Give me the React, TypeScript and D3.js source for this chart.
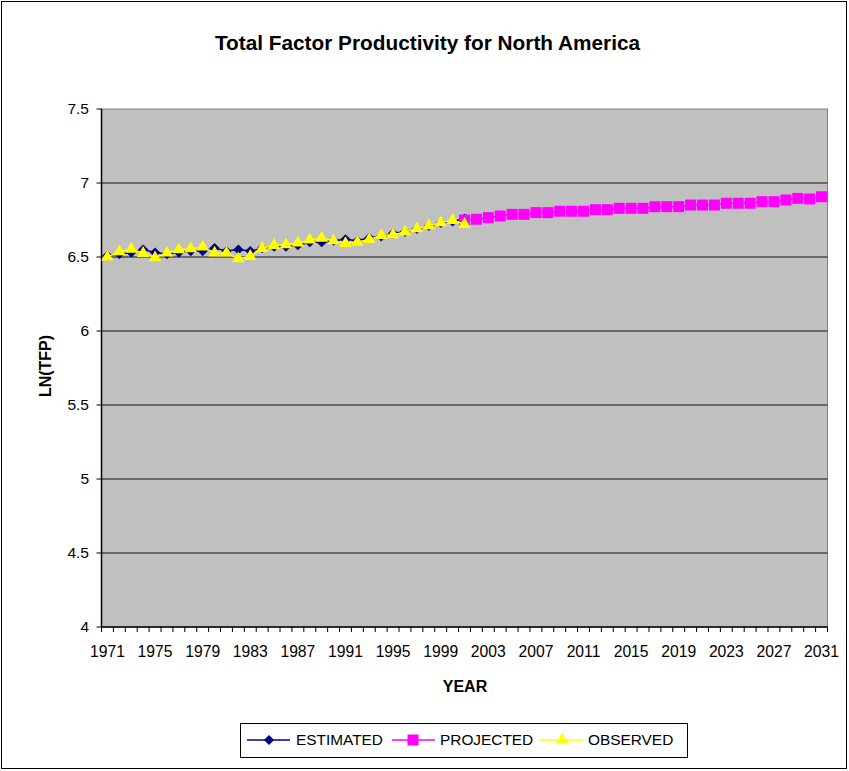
import React from "react";
import * as d3 from "d3";

const years: number[] = d3.range(1971, 2032);
const xTickLabels: number[] = d3.range(1971, 2032, 4);
const yTicks: number[] = [4, 4.5, 5, 5.5, 6, 6.5, 7, 7.5];

const estimatedYears: number[] = d3.range(1971, 2002);
const estimated: number[] = [
  6.51, 6.52, 6.53, 6.55, 6.53, 6.52, 6.53, 6.54, 6.54, 6.56,
  6.54, 6.55, 6.54, 6.56, 6.57, 6.57, 6.58, 6.6, 6.6, 6.61,
  6.62, 6.61, 6.63, 6.64, 6.66, 6.67, 6.69, 6.71, 6.73, 6.74, 6.76,
];

const observedYears: number[] = d3.range(1971, 2002);
const observed: number[] = [
  6.5, 6.536, 6.554, 6.525, 6.495, 6.527, 6.549, 6.556, 6.568, 6.527,
  6.527, 6.489, 6.505, 6.559, 6.579, 6.583, 6.595, 6.615, 6.628, 6.61,
  6.592, 6.601, 6.619, 6.646, 6.651, 6.669, 6.691, 6.712, 6.732, 6.748, 6.721,
];

const projectedYears: number[] = d3.range(2001, 2032);
const projected: number[] = [
  6.75, 6.755, 6.766, 6.777, 6.788, 6.788, 6.8, 6.8, 6.809, 6.809,
  6.809, 6.82, 6.82, 6.829, 6.829, 6.829, 6.84, 6.84, 6.84, 6.851,
  6.851, 6.851, 6.863, 6.863, 6.863, 6.874, 6.874, 6.885, 6.896, 6.892, 6.907,
];

const W = 849;
const H = 771;
const plot = { left: 101.5, right: 827.5, top: 109, bottom: 627 };
const FONT = "'Liberation Sans', Arial, sans-serif";

const NAVY = "#000080";
const MAGENTA = "#FF00FF";
const YELLOW = "#FFFF00";

export default function App() {
  const x = d3
    .scaleBand<number>()
    .domain(years)
    .range([plot.left, plot.right])
    .paddingInner(0)
    .paddingOuter(0);
  const bw = x.bandwidth();
  const cx = (yr: number) => (x(yr) as number) + bw / 2;
  const y = d3.scaleLinear().domain([4, 7.5]).range([plot.bottom, plot.top]);

  const line = d3
    .line<[number, number]>()
    .x((d) => cx(d[0]))
    .y((d) => y(d[1]));

  const est: [number, number][] = estimatedYears.map((yr, i) => [yr, estimated[i]]);
  const obs: [number, number][] = observedYears.map((yr, i) => [yr, observed[i]]);
  const proj: [number, number][] = projectedYears.map((yr, i) => [yr, projected[i]]);

  const diamond = d3.symbol().type(d3.symbolSquare).size(52)() as string;
  const square = d3.symbol().type(d3.symbolSquare).size(121)() as string;
  const triangle = d3.symbol().type(d3.symbolTriangle).size(68)() as string;

  const boundaries = d3.range(0, years.length + 1).map((i) => plot.left + i * bw);

  const legendY = 740;

  return (
    <svg width={W} height={H} style={{ position: "absolute", left: 0, top: 0, background: "#fff" }}>
      <rect x={1.5} y={1.5} width={845} height={767} fill="#fff" stroke="#000" strokeWidth={1} />
      <text x={427.5} y={50} textAnchor="middle" fontFamily={FONT} fontWeight="bold" fontSize={20.8}>
        Total Factor Productivity for North America
      </text>

      {/* plot area */}
      <rect
        x={plot.left}
        y={plot.top}
        width={plot.right - plot.left}
        height={plot.bottom - plot.top}
        fill="#C0C0C0"
        stroke="#808080"
        strokeWidth={1}
      />
      {yTicks
        .filter((t) => t > 4 && t < 7.5)
        .map((t) => (
          <line key={t} x1={plot.left} x2={plot.right} y1={y(t)} y2={y(t)} stroke="#4a4a4a" strokeWidth={1.5} />
        ))}

      {/* axes */}
      <line x1={plot.left} x2={plot.left} y1={plot.top} y2={plot.bottom} stroke="#000" strokeWidth={1.5} />
      <line x1={plot.left} x2={plot.right} y1={plot.bottom} y2={plot.bottom} stroke="#000" strokeWidth={1.5} />
      {yTicks.map((t) => (
        <g key={t}>
          <line x1={plot.left - 5} x2={plot.left} y1={y(t)} y2={y(t)} stroke="#000" strokeWidth={1} />
          <text x={89} y={y(t)} dy="0.35em" textAnchor="end" fontFamily={FONT} fontSize={15.5}>
            {t}
          </text>
        </g>
      ))}
      {boundaries.map((bx, i) => (
        <line key={i} x1={bx} x2={bx} y1={plot.bottom} y2={plot.bottom + 5} stroke="#000" strokeWidth={1} />
      ))}
      {xTickLabels.map((yr) => (
        <text key={yr} x={cx(yr)} y={657} textAnchor="middle" fontFamily={FONT} fontSize={15.7}>
          {yr}
        </text>
      ))}
      <text x={465} y={692} textAnchor="middle" fontFamily={FONT} fontWeight="bold" fontSize={16}>
        YEAR
      </text>
      <text
        transform={`translate(51, 366) rotate(-90)`}
        textAnchor="middle"
        fontFamily={FONT}
        fontWeight="bold"
        fontSize={16}
      >
        LN(TFP)
      </text>

      {/* series */}
      <path d={line(est) as string} fill="none" stroke={NAVY} strokeWidth={1.5} />
      {est.map((d, i) => (
        <path key={"e" + i} d={diamond} transform={`translate(${cx(d[0])},${y(d[1])}) rotate(45)`} fill={NAVY} />
      ))}
      <path d={line(proj) as string} fill="none" stroke={MAGENTA} strokeWidth={1.5} />
      {proj.map((d, i) => (
        <path key={"p" + i} d={square} transform={`translate(${cx(d[0])},${y(d[1])})`} fill={MAGENTA} />
      ))}
      <path d={line(obs) as string} fill="none" stroke={YELLOW} strokeWidth={1.5} />
      {obs.map((d, i) => (
        <path key={"o" + i} d={triangle} transform={`translate(${cx(d[0])},${y(d[1])})`} fill={YELLOW} />
      ))}

      {/* legend */}
      <rect x={240.5} y={723.5} width={447} height={34} fill="#fff" stroke="#000" strokeWidth={1} />
      <line x1={247} x2={290} y1={legendY} y2={legendY} stroke={NAVY} strokeWidth={1.5} />
      <path d={diamond} transform={`translate(269,${legendY}) rotate(45)`} fill={NAVY} />
      <text x={296} y={legendY} dy="0.35em" fontFamily={FONT} fontSize={15.4}>
        ESTIMATED
      </text>
      <line x1={392} x2={435} y1={legendY} y2={legendY} stroke={MAGENTA} strokeWidth={1.5} />
      <path d={square} transform={`translate(413,${legendY})`} fill={MAGENTA} />
      <text x={440} y={legendY} dy="0.35em" fontFamily={FONT} fontSize={15.4}>
        PROJECTED
      </text>
      <line x1={540} x2={583} y1={legendY} y2={legendY} stroke={YELLOW} strokeWidth={1.5} />
      <path d={triangle} transform={`translate(562,${legendY})`} fill={YELLOW} />
      <text x={588} y={legendY} dy="0.35em" fontFamily={FONT} fontSize={15.4}>
        OBSERVED
      </text>
    </svg>
  );
}
